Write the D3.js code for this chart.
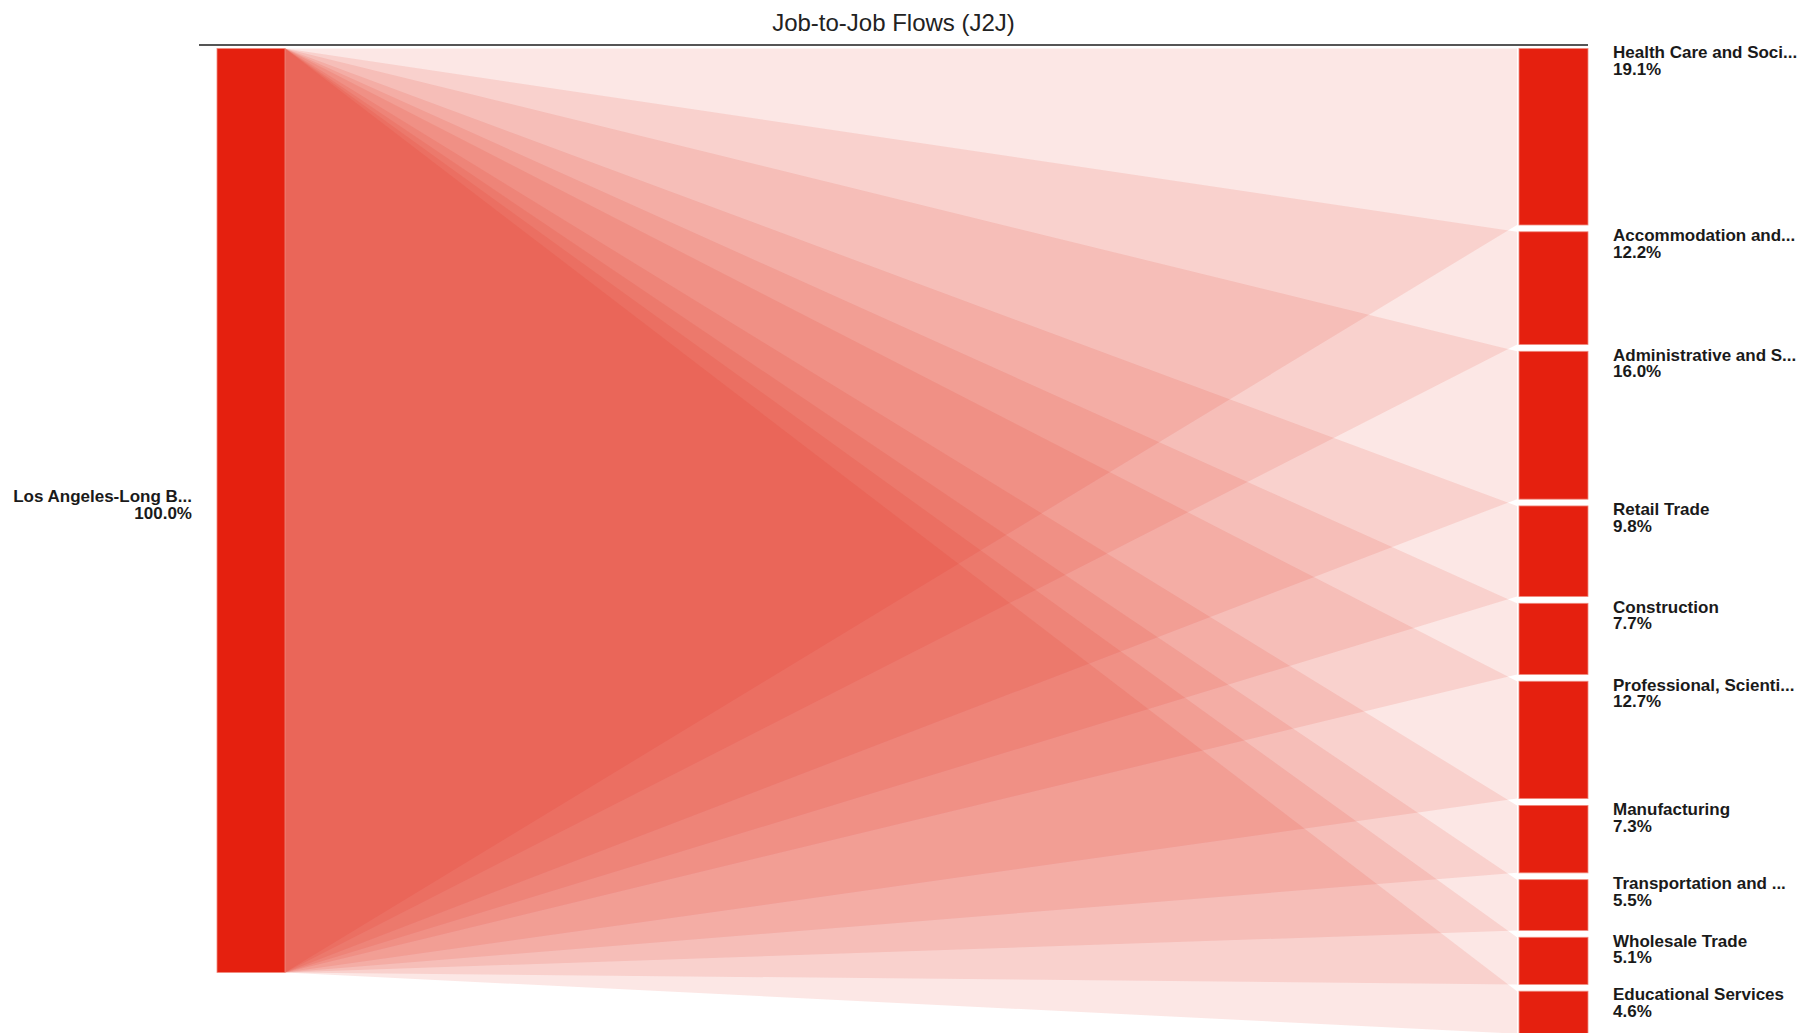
<!DOCTYPE html>
<html>
<head>
<meta charset="utf-8">
<script src="https://cdn.jsdelivr.net/npm/d3@7"></script>
<style>
  html, body { margin: 0; padding: 0; background: #fff; overflow: hidden; }
  svg { display: block; }
  text { font-family: "Liberation Sans", Arial, sans-serif; }
</style>
</head>
<body>
<svg id="chart" width="1803" height="1033"></svg>
<script>
// ---- data ----
const chartTitle = "Job-to-Job Flows (J2J)";
const sourceName = "Los Angeles-Long B...";
const sourceShare = 100.0;
const targetNames = [
  "Health Care and Soci...",
  "Accommodation and...",
  "Administrative and S...",
  "Retail Trade",
  "Construction",
  "Professional, Scienti...",
  "Manufacturing",
  "Transportation and ...",
  "Wholesale Trade",
  "Educational Services"
];
const targetShares = [19.1, 12.2, 16.0, 9.8, 7.7, 12.7, 7.3, 5.5, 5.1, 4.6];

// ---- layout ----
const svg = d3.select("#chart");
const topY = 48.5;
const gap = 6.8;
const leftX0 = 217, leftX1 = 285;
const rightX0 = 1519, rightX1 = 1588;
const flowEndX = 1517;
const nodeColor = "#e5200f";

const h = d3.scaleLinear().domain([0, 100]).range([0, 924]);

// source node
const src = { y0: topY, y1: topY + h(sourceShare) };

// target nodes
let acc = topY;
const targets = targetNames.map((name, i) => {
  const y0 = acc;
  const y1 = y0 + h(targetShares[i]);
  acc = y1 + gap;
  return { name, share: targetShares[i], y0, y1 };
});

// title
svg.append("text")
  .attr("x", (199 + 1588) / 2)
  .attr("y", 31)
  .attr("text-anchor", "middle")
  .attr("font-size", 24)
  .attr("fill", "#222")
  .text(chartTitle);

svg.append("line")
  .attr("x1", 199).attr("x2", 1588)
  .attr("y1", 45).attr("y2", 45)
  .attr("stroke", "#555").attr("stroke-width", 2);

// flows
const flowG = svg.append("g");
flowG.selectAll("path")
  .data(targets)
  .join("path")
  .attr("d", d => d3.line()([
    [leftX1, src.y0], [flowEndX, d.y0], [flowEndX, d.y1], [leftX1, src.y1]
  ]) + "Z")
  .attr("fill", nodeColor)
  .attr("fill-opacity", 0.11);

// nodes
svg.append("rect")
  .attr("x", leftX0).attr("y", src.y0)
  .attr("width", leftX1 - leftX0).attr("height", src.y1 - src.y0)
  .attr("fill", nodeColor)
  .attr("stroke", "#f08a7e").attr("stroke-width", 0.8);

svg.append("g").selectAll("rect")
  .data(targets)
  .join("rect")
  .attr("x", rightX0).attr("y", d => d.y0)
  .attr("width", rightX1 - rightX0).attr("height", d => d.y1 - d.y0)
  .attr("fill", nodeColor)
  .attr("stroke", "#f08a7e").attr("stroke-width", 0.8);

// source label
const srcMid = (src.y0 + src.y1) / 2;
const srcLab = svg.append("text")
  .attr("text-anchor", "end")
  .attr("font-size", 17)
  .attr("font-weight", "bold")
  .attr("fill", "#1a1a1a");
srcLab.append("tspan").attr("x", 192).attr("y", srcMid - 9).text(sourceName);
srcLab.append("tspan").attr("x", 192).attr("y", srcMid + 8.5).text(sourceShare.toFixed(1) + "%");

// target labels
const labG = svg.append("g");
targets.forEach(d => {
  const t = labG.append("text")
    .attr("font-size", 17)
    .attr("font-weight", "bold")
    .attr("fill", "#1a1a1a");
  t.append("tspan").attr("x", 1613).attr("y", d.y0 + 9.3).text(d.name);
  t.append("tspan").attr("x", 1613).attr("y", d.y0 + 26.1).text(d.share.toFixed(1) + "%");
});
</script>
</body>
</html>
